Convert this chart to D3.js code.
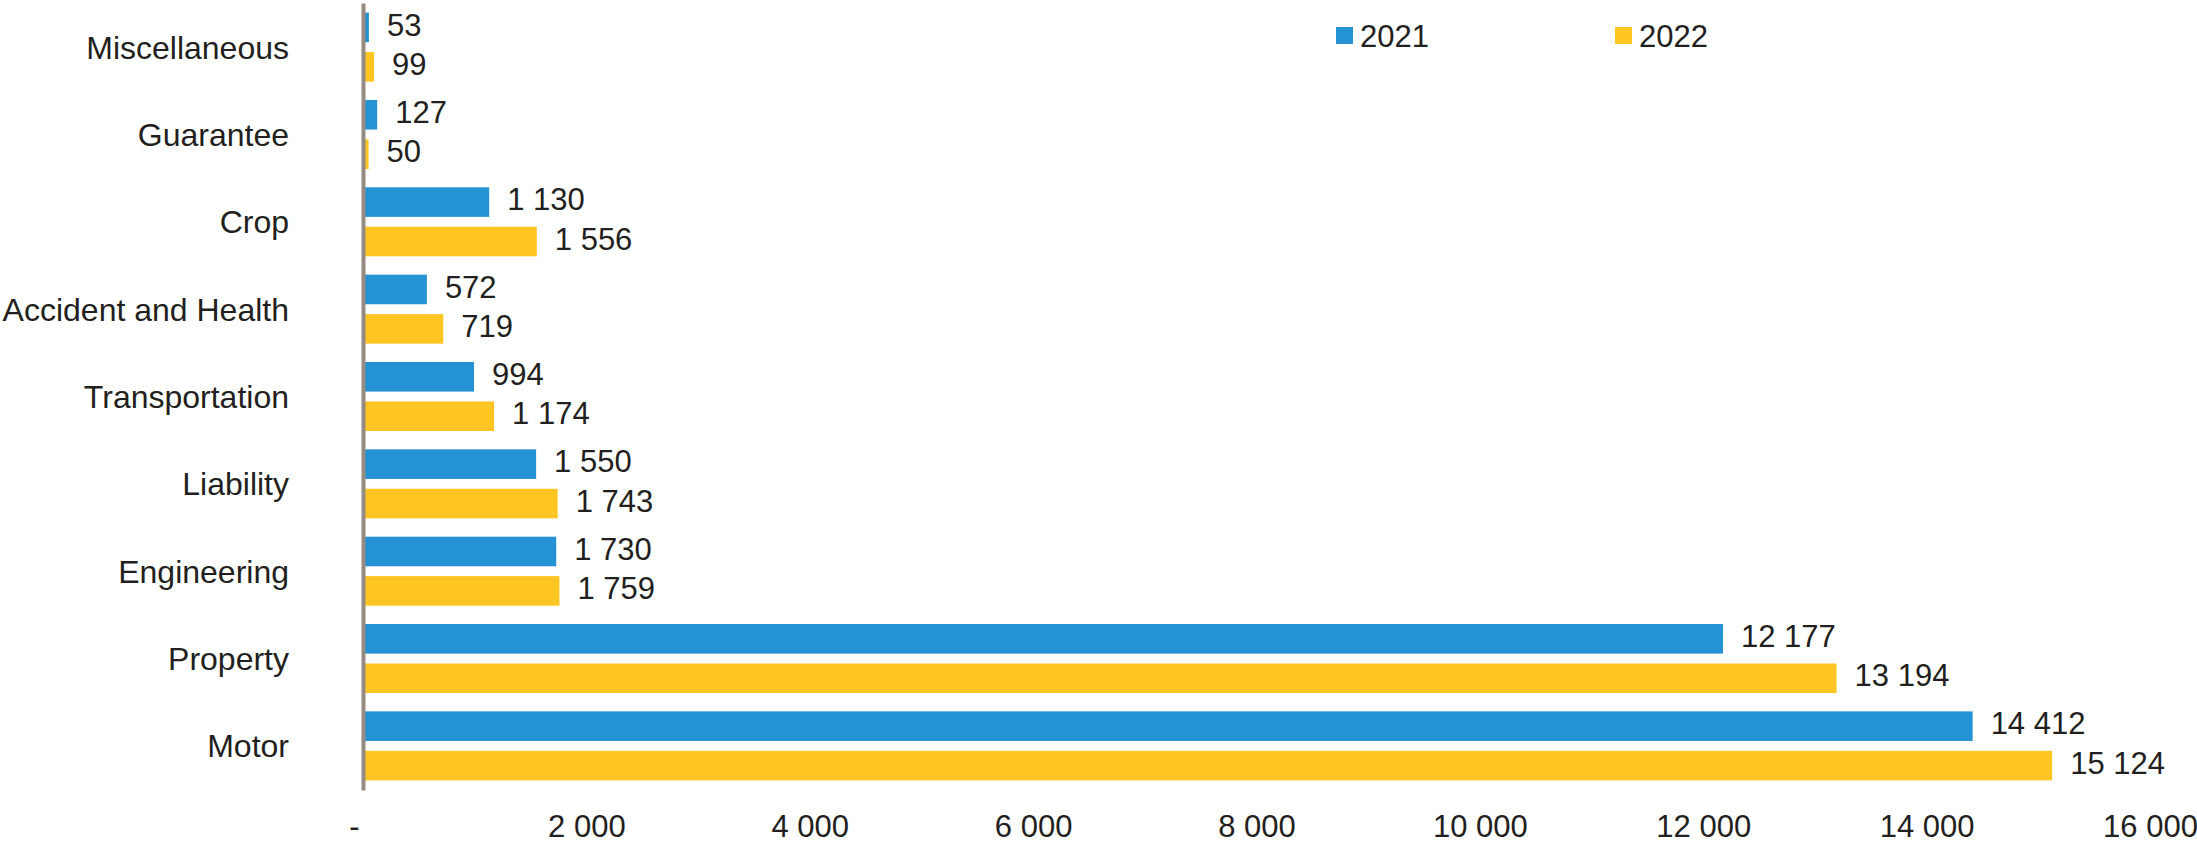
<!DOCTYPE html>
<html>
<head>
<meta charset="utf-8">
<script src="https://cdn.jsdelivr.net/npm/d3@7"></script>
<style>
  body { margin: 0; background: #fff; }
  svg { display: block; font-family: "Liberation Sans", Arial, sans-serif; }
</style>
</head>
<body>
<div id="chart"></div>
<script>
// categories top to bottom
const categories = ["Miscellaneous", "Guarantee", "Crop", "Accident and Health",
    "Transportation", "Liability", "Engineering", "Property", "Motor"];
const years = ["2021", "2022"];
const values2021 = [53, 127, 1130, 572, 994, 1550, 1730, 12177, 14412];
const values2022 = [99, 50, 1556, 719, 1174, 1743, 1759, 13194, 15124];
const xTicks = [0, 2000, 4000, 6000, 8000, 10000, 12000, 14000, 16000];

const colors = {"2021": "#2492D3", "2022": "#FFC522"};
const textColor = "#231F20";

const width = 2197, height = 845;

const svg = d3.select("#chart")
    .append("svg")
    .attr("width", width)
    .attr("height", height);

// Scales
const x = d3.scaleLinear()
    .domain([0, 16000])
    .range([363, 2150]);

const y = d3.scaleBand()
    .domain(categories)
    .range([3, 790])
    .paddingInner(0.21)
    .paddingOuter(0.11);

const ySub = d3.scaleBand()
    .domain(years)
    .range([0, y.bandwidth()])
    .paddingInner(0.25);

const rows = categories.map((c, i) => ({
    category: c,
    items: [
        {year: "2021", value: values2021[i]},
        {year: "2022", value: values2022[i]}
    ]
}));

const fmt = v => v === 0 ? "-" : d3.format(",")(v).replace(/,/g, " ");

// Bars
const groups = svg.append("g")
    .selectAll("g")
    .data(rows)
    .join("g")
    .attr("transform", d => `translate(0,${y(d.category)})`);

groups.selectAll("rect")
    .data(d => d.items)
    .join("rect")
    .attr("x", x(0))
    .attr("y", d => ySub(d.year))
    .attr("width", d => x(d.value) - x(0))
    .attr("height", ySub.bandwidth())
    .attr("fill", d => colors[d.year]);

// Value labels
groups.selectAll("text")
    .data(d => d.items)
    .join("text")
    .attr("x", d => x(d.value) + 18)
    .attr("y", d => ySub(d.year) + ySub.bandwidth() / 2 - 3)
    .attr("dy", "0.36em")
    .attr("font-size", 31)
    .attr("fill", textColor)
    .text(d => fmt(d.value));

// Y axis (category labels + grey baseline)
const yAxis = svg.append("g")
    .attr("transform", `translate(${x(0)},0)`)
    .call(d3.axisLeft(y).tickSize(0).tickSizeOuter(0).tickPadding(74));
yAxis.select(".domain")
    .attr("stroke", "#968B82")
    .attr("stroke-width", 4);
yAxis.selectAll("text")
    .attr("font-size", 32)
    .attr("font-family", "Liberation Sans, Arial, sans-serif")
    .attr("fill", textColor)
    .attr("dy", "0.36em");

// X axis, labels only
const xAxis = svg.append("g")
    .attr("transform", "translate(0,806)")
    .call(d3.axisBottom(x).tickValues(xTicks).tickSize(0).tickPadding(0).tickFormat(fmt));
xAxis.select(".domain").remove();
xAxis.selectAll("text")
    .attr("font-size", 31)
    .attr("font-family", "Liberation Sans, Arial, sans-serif")
    .attr("fill", textColor)
    .attr("y", 31)
    .attr("dy", 0)
    .attr("dx", d => d === 0 ? -9 : 0);

// Legend
const legend = svg.append("g")
    .selectAll("g")
    .data(years)
    .join("g")
    .attr("transform", (d, i) => `translate(${1336 + i * 279},27)`);

legend.append("rect")
    .attr("width", 17)
    .attr("height", 17)
    .attr("fill", d => colors[d]);

legend.append("text")
    .attr("x", 24)
    .attr("y", 20)
    .attr("font-size", 31)
    .attr("fill", textColor)
    .text(d => d);
</script>
</body>
</html>
